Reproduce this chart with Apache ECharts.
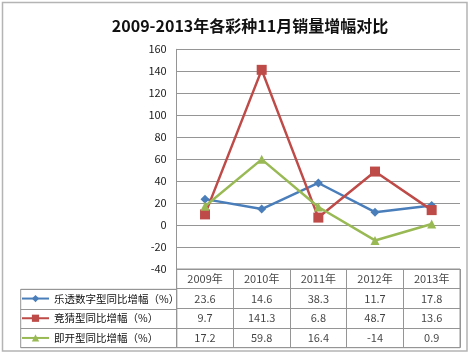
<!DOCTYPE html>
<html><head><meta charset="utf-8">
<script src="https://cdn.jsdelivr.net/npm/echarts@6/dist/echarts.min.js"></script>
<style>html,body{margin:0;padding:0;background:#fff}#c{width:474px;height:355px}</style>
</head><body><div id="c"></div>
<script>
const years = ['2009年','2010年','2011年','2012年','2013年'];
const seriesNames = ['乐透数字型同比增幅（%）','竞猜型同比增幅（%）','即开型同比增幅（%）'];
const lotto = [23.6, 14.6, 38.3, 11.7, 17.8];
const quiz = [9.7, 141.3, 6.8, 48.7, 13.6];
const instant = [17.2, 59.8, 16.4, -14, 0.9];
const yTicks = {min: -40, max: 160, interval: 20};

const allVals = [lotto, quiz, instant];
const colors = ['#4A7EBB', '#BE4B48', '#98B954'];
const symbols = ['diamond', 'rect', 'triangle'];
const symSizes = [9, 10, 9];
const FONT = "'Noto Sans CJK SC', sans-serif";
const gridColor = '#959595';

// table text data: [colIndex, rowIndex, text]
const tableData = [];
years.forEach((y, i) => tableData.push([i, 0, y]));
allVals.forEach((arr, r) => arr.forEach((v, i) => tableData.push([i, r + 1, String(v)])));

const rowTops = [289.3, 309.0, 328.7];
const chart = echarts.init(document.getElementById('c'));
chart.setOption({
  backgroundColor: '#fff',
  animation: false,
  textStyle: {fontFamily: FONT},
  title: {
    text: '2009-2013年各彩种11月销量增幅对比',
    left: 245, top: 13, textAlign: 'center',
    textStyle: {fontSize: 16, fontWeight: 'bold', color: '#111', fontFamily: FONT}
  },
  graphic: [{
    type: 'rect', shape: {x: 2.5, y: 2.5, width: 464.5, height: 348.5},
    style: {fill: 'none', stroke: '#b4b4b4', lineWidth: 1.5}, silent: true, z: -1
  }],
  legend: seriesNames.map((n, i) => ({
    data: [n], left: 21, top: rowTops[i] + 4, itemWidth: 27, itemHeight: 9, itemGap: 3,
    textStyle: {fontSize: 10.5, color: '#111', fontFamily: FONT}, selectedMode: false, padding: 0
  })),
  grid: [
    {left: 176.7, right: 14, top: 49.3, height: 219.7},
    {left: 176.7, right: 14, top: 269, height: 78.7, show: true, borderColor: gridColor, borderWidth: 1},
    {left: 20.7, width: 156, top: 289.3, height: 58.4, show: true, borderColor: gridColor, borderWidth: 1}
  ],
  xAxis: [
    {type: 'category', data: years, gridIndex: 0, boundaryGap: true,
     axisLine: {show: false}, axisTick: {show: false}, axisLabel: {show: false}, splitLine: {show: false}},
    {type: 'category', data: years, gridIndex: 1, boundaryGap: true,
     axisLine: {show: false}, axisTick: {show: false}, axisLabel: {show: false},
     splitLine: {show: true, lineStyle: {color: gridColor, width: 1}}},
    {type: 'value', gridIndex: 2, min: 0, max: 1, show: false}
  ],
  yAxis: [
    {type: 'value', gridIndex: 0, min: yTicks.min, max: yTicks.max, interval: yTicks.interval,
     axisLine: {show: true, lineStyle: {color: gridColor, width: 1}}, axisTick: {show: false},
     axisLabel: {fontSize: 11, color: '#222', margin: 10, fontFamily: FONT},
     splitLine: {show: true, lineStyle: {color: gridColor, width: 1}}},
    {type: 'category', gridIndex: 1, data: ['h', 'a', 'b', 'c'], inverse: true, boundaryGap: true,
     axisLine: {show: false}, axisTick: {show: false}, axisLabel: {show: false},
     splitLine: {show: true, lineStyle: {color: gridColor, width: 1}}},
    {type: 'category', gridIndex: 2, data: ['a', 'b', 'c'], inverse: true, boundaryGap: true,
     axisLine: {show: false}, axisTick: {show: false}, axisLabel: {show: false},
     splitLine: {show: true, lineStyle: {color: gridColor, width: 1}}}
  ],
  series: allVals.map((arr, i) => ({
    name: seriesNames[i], type: 'line', xAxisIndex: 0, yAxisIndex: 0, data: arr,
    symbol: symbols[i], symbolSize: symSizes[i], showAllSymbol: true,
    lineStyle: {color: colors[i], width: 2.5}, itemStyle: {color: colors[i]},
    z: 3 + (i === 1 ? 0 : i)
  })).concat([{
    type: 'scatter', xAxisIndex: 1, yAxisIndex: 1, data: tableData, symbolSize: 0,
    silent: true,
    label: {show: true, position: 'inside', fontSize: 11, color: '#111', fontFamily: FONT,
            formatter: p => p.data[2]}
  }])
});
</script></body></html>
